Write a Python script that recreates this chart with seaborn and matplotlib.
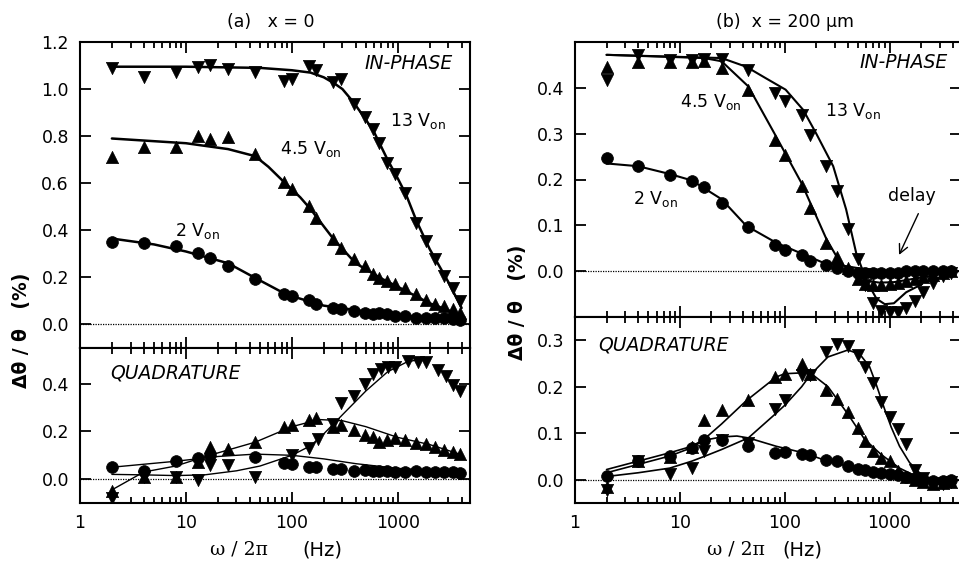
import numpy as np
import pandas as pd
import matplotlib
matplotlib.use("Agg")
import matplotlib.pyplot as plt
import seaborn as sns
from matplotlib.ticker import LogLocator, FixedLocator, FuncFormatter, NullFormatter, NullLocator

# ---------------- data ----------------
# Panel (a) x = 0 : frequencies (Hz)
freq_a = [2, 4, 8, 13, 17, 25, 45, 85, 100, 145, 170, 245, 290, 385, 495, 585,
          670, 790, 935, 1170, 1500, 1850, 2250, 2750, 3300, 3840]
a_in_13 = [1.088, 1.05, 1.074, 1.092, 1.102, 1.085, 1.074, 1.035, 1.043, 1.10, 1.08,
           1.031, 1.043, 0.935, 0.88, 0.83, 0.773, 0.688, 0.638, 0.56, 0.432, 0.355,
           0.277, 0.206, 0.156, 0.10]
a_in_45 = [0.713, 0.755, 0.755, 0.80, 0.79, 0.798, 0.723, 0.605, 0.574, 0.503, 0.454,
           0.364, 0.326, 0.277, 0.248, 0.213, 0.198, 0.184, 0.17, 0.156, 0.128, 0.106,
           0.089, 0.078, 0.064, 0.05]
a_in_2 = [0.35, 0.345, 0.333, 0.305, 0.283, 0.248, 0.194, 0.128, 0.12, 0.106, 0.085,
          0.071, 0.067, 0.057, 0.05, 0.043, 0.05, 0.043, 0.035, 0.035, 0.028, 0.028,
          0.028, 0.028, 0.025, 0.018]

a_q_13_f = [2, 4, 8, 13, 17, 25, 45, 100, 145, 175, 245, 290, 385, 495, 585, 700, 800,
            950, 1250, 1550, 1850, 2400, 2880, 3300, 3840]
a_q_13 = [-0.081, 0.01, 0.01, -0.004, 0.059, 0.059, 0.01, 0.10, 0.129, 0.168, 0.23,
          0.319, 0.347, 0.40, 0.44, 0.46, 0.47, 0.47, 0.497, 0.49, 0.49, 0.459, 0.431,
          0.396, 0.37]
a_q_45 = [-0.049, 0.01, 0.01, 0.073, 0.136, 0.125, 0.157, 0.22, 0.227, 0.248, 0.258,
          0.22, 0.227, 0.206, 0.185, 0.178, 0.157, 0.164, 0.174, 0.164, 0.15, 0.146,
          0.136, 0.122, 0.112, 0.104]
a_q_2_f = [2, 4, 8, 13, 17, 45, 85, 100, 145, 170, 245, 290, 385, 495, 585, 670, 790,
           935, 1170, 1500, 1850, 2250, 2750, 3300, 3840]
a_q_2 = [0.052, 0.034, 0.076, 0.087, 0.10, 0.094, 0.066, 0.064, 0.052, 0.052, 0.042,
         0.042, 0.035, 0.038, 0.036, 0.035, 0.034, 0.032, 0.03, 0.035, 0.032, 0.03,
         0.03, 0.028, 0.024]

# fitted curves, panel (a)
fa_in_13_f = [2, 10, 50, 100, 150, 200, 250, 300, 380, 500, 600, 800, 1000, 1200, 1500,
              2000, 3000, 4000]
fa_in_13 = [1.095, 1.095, 1.09, 1.08, 1.07, 1.05, 1.025, 1.0, 0.945, 0.87, 0.815, 0.70,
            0.62, 0.55, 0.44, 0.32, 0.18, 0.07]
fa_in_45_f = [2, 10, 25, 45, 60, 80, 120, 150, 250, 400, 700, 1000, 2000, 3000, 4000]
fa_in_45 = [0.79, 0.77, 0.745, 0.715, 0.67, 0.615, 0.54, 0.49, 0.36, 0.26, 0.195, 0.16,
            0.09, 0.06, 0.035]
fa_in_2_f = [2, 5, 10, 25, 42, 77, 100, 200, 500, 1000, 2000, 4000]
fa_in_2 = [0.365, 0.34, 0.31, 0.26, 0.205, 0.142, 0.12, 0.08, 0.055, 0.04, 0.028, 0.02]

fa_q_13_f = [2, 4, 8, 15, 30, 50, 100, 150, 200, 300, 500, 800, 1200, 1500]
fa_q_13 = [0.02, 0.018, 0.015, 0.018, 0.035, 0.055, 0.10, 0.14, 0.19, 0.27, 0.37, 0.45,
           0.49, 0.50]
fa_q_45_f = [2, 4, 8, 13, 20, 45, 100, 180, 300, 500, 1000, 2000, 3840]
fa_q_45 = [-0.045, 0.03, 0.055, 0.085, 0.11, 0.155, 0.22, 0.25, 0.245, 0.22, 0.175,
           0.145, 0.105]
fa_q_2_f = [2, 8, 20, 45, 100, 200, 400, 1000, 2000, 3840]
fa_q_2 = [0.05, 0.075, 0.095, 0.105, 0.10, 0.085, 0.065, 0.045, 0.038, 0.032]

# Panel (b) x = 200 um
freq_b = [2, 4, 8, 13, 17, 25, 45, 80, 100, 145, 175, 250, 315, 400, 495, 578, 690,
          830, 1000, 1200, 1450, 1750, 2100, 2600, 3200, 3840]
b_in_13 = [0.417, 0.472, 0.461, 0.461, 0.464, 0.464, 0.439, 0.388, 0.372, 0.341, 0.298,
           0.229, 0.175, 0.091, 0.026, -0.03, -0.07, -0.086, -0.09, -0.09, -0.08,
           -0.065, -0.046, -0.025, -0.01, -0.003]
b_in_45 = [0.446, 0.457, 0.457, 0.457, 0.459, 0.443, 0.396, 0.287, 0.254, 0.185, 0.138,
           0.062, 0.03, 0.008, -0.017, -0.028, -0.03, -0.03, -0.028, -0.025, -0.022,
           -0.017, -0.012, -0.008, -0.004, 0.0]
b_in_2 = [0.247, 0.23, 0.209, 0.196, 0.184, 0.149, 0.097, 0.057, 0.047, 0.035, 0.022,
          0.013, 0.007, 0.0, -0.003, -0.005, -0.005, -0.005, -0.005, -0.003, 0.0, 0.0,
          0.0, 0.0, 0.0, 0.0]
b_q_13 = [-0.022, 0.04, 0.012, 0.025, 0.062, 0.085, 0.08, 0.152, 0.172, 0.225, 0.225,
          0.275, 0.293, 0.288, 0.268, 0.243, 0.207, 0.167, 0.134, 0.109, 0.076, 0.022,
          0.004, -0.007, -0.01, -0.005]
b_q_45 = [-0.015, 0.04, 0.05, 0.07, 0.128, 0.15, 0.172, 0.222, 0.228, 0.248, 0.228,
          0.192, 0.174, 0.145, 0.112, 0.083, 0.062, 0.047, 0.04, 0.018, 0.006, 0.0,
          -0.005, -0.01, -0.008, -0.005]
b_q_2 = [0.009, 0.04, 0.051, 0.069, 0.085, 0.085, 0.072, 0.058, 0.06, 0.056, 0.053,
         0.043, 0.04, 0.029, 0.024, 0.02, 0.017, 0.015, 0.013, 0.01, 0.006, 0.003, 0.0,
         -0.002, -0.003, 0.0]

# fitted curves, panel (b)
fb_in_13_f = [2, 25, 43, 66, 102, 150, 200, 290, 385, 480, 600, 750, 900, 1100, 1440, 2050]
fb_in_13 = [0.472, 0.465, 0.446, 0.421, 0.396, 0.352, 0.30, 0.229, 0.135, 0.04, -0.02,
            -0.06, -0.072, -0.07, -0.046, -0.028]
fb_in_45_f = [2, 17, 25, 45, 80, 144, 250, 335, 445, 600, 800, 1100, 1660, 2500, 4500]
fb_in_45 = [0.472, 0.465, 0.458, 0.403, 0.30, 0.193, 0.07, 0.02, -0.003, -0.021, -0.025,
            -0.024, -0.017, -0.01, 0.0]
fb_in_2_f = [2, 4, 8, 13, 25, 43, 83, 150, 230, 520, 1000, 4500]
fb_in_2 = [0.235, 0.229, 0.212, 0.198, 0.157, 0.099, 0.062, 0.037, 0.019, 0.006, 0.001, 0.0]

fb_q_13_f = [2, 4, 8, 13, 17, 25, 45, 80, 100, 145, 175, 258, 400, 520, 645, 746, 896,
             1037, 1245, 1550, 1930, 2600]
fb_q_13 = [0.007, 0.015, 0.025, 0.04, 0.05, 0.065, 0.09, 0.14, 0.16, 0.2, 0.225, 0.264,
           0.279, 0.27, 0.243, 0.205, 0.152, 0.113, 0.072, 0.037, 0.015, 0.0]
fb_q_45_f = [2, 4, 8, 13, 17, 25, 43, 83, 100, 150, 175, 259, 401, 578, 834, 1245, 1667, 2500]
fb_q_45 = [0.022, 0.04, 0.058, 0.072, 0.087, 0.12, 0.17, 0.221, 0.228, 0.23, 0.23, 0.20,
           0.141, 0.087, 0.054, 0.025, 0.011, 0.0]
fb_q_2_f = [2, 4, 8, 13, 17, 25, 35, 45, 83, 150, 258, 400, 645, 1250, 2000]
fb_q_2 = [0.015, 0.033, 0.051, 0.069, 0.085, 0.092, 0.094, 0.09, 0.072, 0.058, 0.04,
          0.029, 0.018, 0.01, 0.005]

# ---------------- style ----------------
sns.set_theme(style="ticks")
plt.rcParams['font.family'] = ['DejaVu Sans']
plt.rcParams['mathtext.default'] = 'regular'
plt.rcParams['axes.linewidth'] = 1.5
plt.rcParams['text.color'] = 'black'
plt.rcParams['axes.labelcolor'] = 'black'

W, H = 959, 561
fig = plt.figure(figsize=(W / 100, H / 100), dpi=100)


def box(x0, y0, x1, y1):
    return [x0 / W, 1 - y1 / H, (x1 - x0) / W, (y1 - y0) / H]


ax_at = fig.add_axes(box(80, 42, 470, 348))
ax_ab = fig.add_axes(box(80, 348, 470, 503))
ax_bt = fig.add_axes(box(575, 42, 961, 317))
ax_bb = fig.add_axes(box(575, 317, 961, 503))

MS = {'o': 72, '^': 78, 'v': 78}


def pts(ax, f, v, m):
    sns.scatterplot(x=f, y=v, marker=m, s=MS[m], color='black', edgecolor='black',
                    linewidth=0.5, ax=ax, legend=False, zorder=3)


def fit(ax, f, v, lw):
    sns.lineplot(x=f, y=v, color='black', lw=lw, ax=ax, estimator=None, sort=False,
                 legend=False, zorder=2)


TICK = 12.5
for ax in (ax_at, ax_ab, ax_bt, ax_bb):
    ax.set_xscale('log')
    ax.set_xlim(1, 4800)
    ax.axhline(0, color='black', lw=0.9, ls=(0, (1, 1)), zorder=1)
    ax.xaxis.set_major_locator(FixedLocator([1, 10, 100, 1000]))
    ax.xaxis.set_minor_locator(LogLocator(base=10, subs=np.arange(2, 10)))
    ax.xaxis.set_minor_formatter(NullFormatter())
    ax.yaxis.set_minor_locator(NullLocator())
    ax.tick_params(which='both', direction='in', top=True, right=True, width=1.3,
                   labelsize=TICK, colors='black')
    ax.tick_params(which='major', length=8)
    ax.tick_params(which='minor', length=4.5)
    ax.tick_params(axis='y', pad=8)
    ax.tick_params(axis='x', pad=8)
    ax.set_xlabel('')
    ax.set_ylabel('')
    for s in ax.spines.values():
        s.set_color('black')

for ax in (ax_at, ax_bt):
    ax.xaxis.set_major_formatter(NullFormatter())
for ax in (ax_ab, ax_bb):
    ax.xaxis.set_major_formatter(FuncFormatter(lambda v, p: f'{v:g}'))

# panel (a) in-phase
fit(ax_at, fa_in_13_f, fa_in_13, 1.8)
fit(ax_at, fa_in_45_f, fa_in_45, 1.8)
fit(ax_at, fa_in_2_f, fa_in_2, 1.8)
pts(ax_at, freq_a, a_in_13, 'v')
pts(ax_at, freq_a, a_in_45, '^')
pts(ax_at, freq_a, a_in_2, 'o')
ax_at.set_ylim(-0.1, 1.2)
ax_at.set_yticks([0.0, 0.2, 0.4, 0.6, 0.8, 1.0, 1.2])
ax_at.yaxis.set_major_formatter(FuncFormatter(lambda v, p: f'{v:.1f}'))

# panel (a) quadrature
fit(ax_ab, fa_q_13_f, fa_q_13, 1.0)
fit(ax_ab, fa_q_45_f, fa_q_45, 1.0)
fit(ax_ab, fa_q_2_f, fa_q_2, 1.0)
pts(ax_ab, a_q_13_f, a_q_13, 'v')
pts(ax_ab, freq_a, a_q_45, '^')
pts(ax_ab, a_q_2_f, a_q_2, 'o')
ax_ab.set_ylim(-0.1, 0.55)
ax_ab.set_yticks([0.0, 0.2, 0.4])
ax_ab.yaxis.set_major_formatter(FuncFormatter(lambda v, p: f'{v:.1f}'))

# panel (b) in-phase
fit(ax_bt, fb_in_13_f, fb_in_13, 1.5)
fit(ax_bt, fb_in_45_f, fb_in_45, 1.5)
fit(ax_bt, fb_in_2_f, fb_in_2, 1.5)
pts(ax_bt, freq_b, b_in_13, 'v')
pts(ax_bt, freq_b, b_in_45, '^')
pts(ax_bt, freq_b, b_in_2, 'o')
ax_bt.set_ylim(-0.1, 0.5)
ax_bt.set_yticks([0.0, 0.1, 0.2, 0.3, 0.4])
ax_bt.yaxis.set_major_formatter(FuncFormatter(lambda v, p: f'{v:.1f}'))

# panel (b) quadrature
fit(ax_bb, fb_q_13_f, fb_q_13, 1.2)
fit(ax_bb, fb_q_45_f, fb_q_45, 1.2)
fit(ax_bb, fb_q_2_f, fb_q_2, 1.2)
pts(ax_bb, freq_b, b_q_13, 'v')
pts(ax_bb, freq_b, b_q_45, '^')
pts(ax_bb, freq_b, b_q_2, 'o')
ax_bb.set_ylim(-0.05, 0.35)
ax_bb.set_yticks([0.0, 0.1, 0.2, 0.3])
ax_bb.yaxis.set_major_formatter(FuncFormatter(lambda v, p: f'{v:.1f}'))

# ---------------- texts ----------------
TS = 12.5
LS = 13.5
ax_at.text(0.955, 0.93, 'IN-PHASE', transform=ax_at.transAxes, ha='right', va='center',
           style='italic', fontsize=LS)
ax_ab.text(0.077, 0.84, 'QUADRATURE', transform=ax_ab.transAxes, ha='left', va='center',
           style='italic', fontsize=LS)
ax_bt.text(0.965, 0.925, 'IN-PHASE', transform=ax_bt.transAxes, ha='right', va='center',
           style='italic', fontsize=LS)
ax_bb.text(0.06, 0.85, 'QUADRATURE', transform=ax_bb.transAxes, ha='left', va='center',
           style='italic', fontsize=LS)

ax_at.text(840, 0.843, r'13 V$_{on}$', ha='left', va='baseline', fontsize=TS)
ax_at.text(77, 0.723, r'4.5 V$_{on}$', ha='left', va='baseline', fontsize=TS)
ax_at.text(7.9, 0.376, r'2 V$_{on}$', ha='left', va='baseline', fontsize=TS)
ax_bt.text(10, 0.359, r'4.5 V$_{on}$', ha='left', va='baseline', fontsize=TS)
ax_bt.text(240, 0.338, r'13 V$_{on}$', ha='left', va='baseline', fontsize=TS)
ax_bt.text(3.6, 0.146, r'2 V$_{on}$', ha='left', va='baseline', fontsize=TS)

ax_bt.text(1640, 0.164, 'delay', ha='center', va='center', fontsize=TS)
ax_bt.annotate('', xy=(1200, 0.03), xytext=(1930, 0.131),
               arrowprops=dict(arrowstyle='->', color='black', lw=1.0, mutation_scale=16))

fig.text(271 / W, 1 - 22 / H, '(a)   x = 0', ha='center', va='center', fontsize=TS)
fig.text(785 / W, 1 - 22 / H, '(b)  x = 200 μm', ha='center', va='center', fontsize=TS)

serif = ['DejaVu Serif']
fig.text(210 / W, 1 - 550 / H, 'ω / 2π', ha='left', va='center', fontsize=13.5, family=serif)
fig.text(302 / W, 1 - 550 / H, '(Hz)', ha='left', va='center', fontsize=14)
fig.text(707 / W, 1 - 550 / H, 'ω / 2π', ha='left', va='center', fontsize=13.5, family=serif)
fig.text(782 / W, 1 - 550 / H, '(Hz)', ha='left', va='center', fontsize=14)

fig.text(22 / W, 1 - 330 / H, 'Δθ / θ   (%)', rotation=90, ha='center', va='center',
         fontsize=13.5, fontweight='bold')
fig.text(517 / W, 1 - 302 / H, 'Δθ / θ   (%)', rotation=90, ha='center', va='center',
         fontsize=13.5, fontweight='bold')

fig.savefig('out.png', dpi=100)
